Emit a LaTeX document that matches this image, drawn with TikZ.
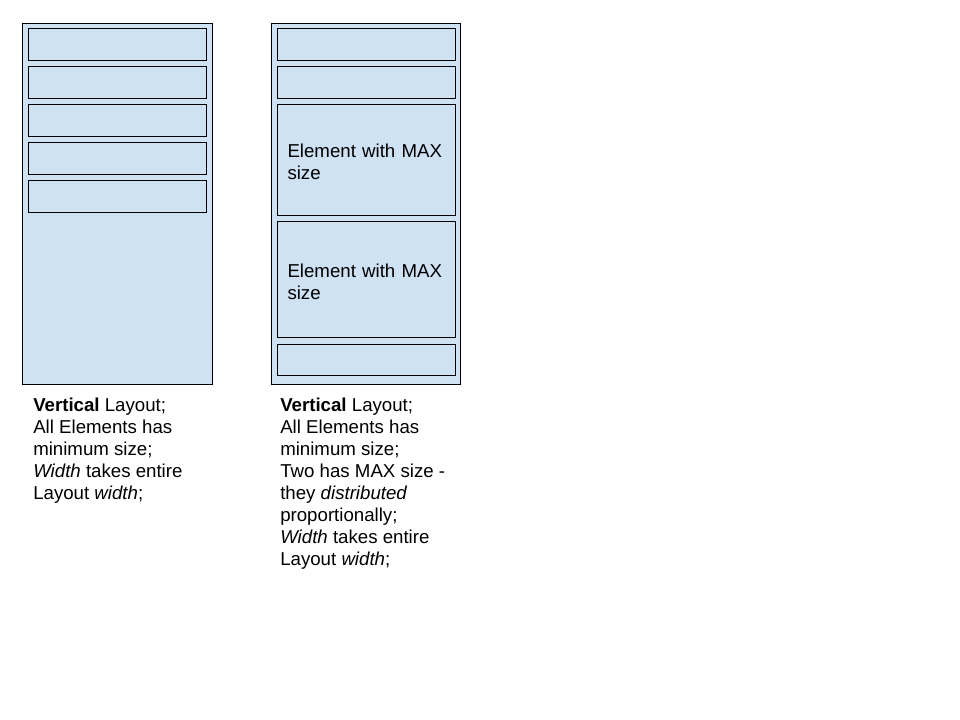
\documentclass[tikz,border=0pt]{standalone}
\usepackage{fontspec}
\setmainfont{Liberation Sans}
\definecolor{panelblue}{HTML}{CFE2F3}
\tikzset{
  panel/.style={draw=black, fill=panelblue, line width=0.75pt, rectangle, inner sep=0pt, anchor=north west},
  slot/.style={draw=black, fill=panelblue, line width=0.75pt, rectangle, anchor=north west,
    minimum width=178*0.75pt, inner xsep=7.5pt, inner ysep=0pt, text width=118.5pt, align=left,
    font=\fontsize{14pt}{16.5pt}\selectfont},
  caption/.style={anchor=north west, inner sep=0pt, align=left, font=\fontsize{14pt}{16.5pt}\selectfont}
}
\begin{document}
\begin{tikzpicture}[x=0.75pt, y=-0.75pt]
\useasboundingbox[fill=white] (0,0) rectangle (960,720);
% left panel
\node[panel, minimum width=190*0.75pt, minimum height=361*0.75pt] (lp) at (22,23) {};
\node[slot, minimum height=32*0.75pt] (l1) at (28,28) {};
\node[slot, minimum height=32*0.75pt] (l2) at (28,66) {};
\node[slot, minimum height=32*0.75pt] (l3) at (28,104) {};
\node[slot, minimum height=32*0.75pt] (l4) at (28,142) {};
\node[slot, minimum height=32*0.75pt] (l5) at (28,180) {};
% right panel
\node[panel, minimum width=189*0.75pt, minimum height=361*0.75pt] (rp) at (271,23) {};
\node[slot, minimum height=32*0.75pt] (r1) at (277,28) {};
\node[slot, minimum height=32*0.75pt] (r2) at (277,66) {};
\node[slot, minimum height=111*0.75pt] (r3) at (277,104) {\rule{0pt}{13.5pt}Element with MAX\\size};
\node[slot, minimum height=116*0.75pt] (r4) at (277,221) {\rule{0pt}{13.5pt}Element with MAX\\size};
\node[slot, minimum height=31*0.75pt] (r5) at (277,344) {};
% captions
\node[caption] (lc) at (33,398) {\textbf{Vertical} Layout;\\All Elements has\\minimum size;\\\textit{Width} takes entire\\Layout \textit{width};};
\node[caption] (rc) at (280,398) {\textbf{Vertical} Layout;\\All Elements has\\minimum size;\\Two has MAX size -\\they \textit{distributed}\\proportionally;\\\textit{Width} takes entire\\Layout \textit{width};};
\end{tikzpicture}
\end{document}
